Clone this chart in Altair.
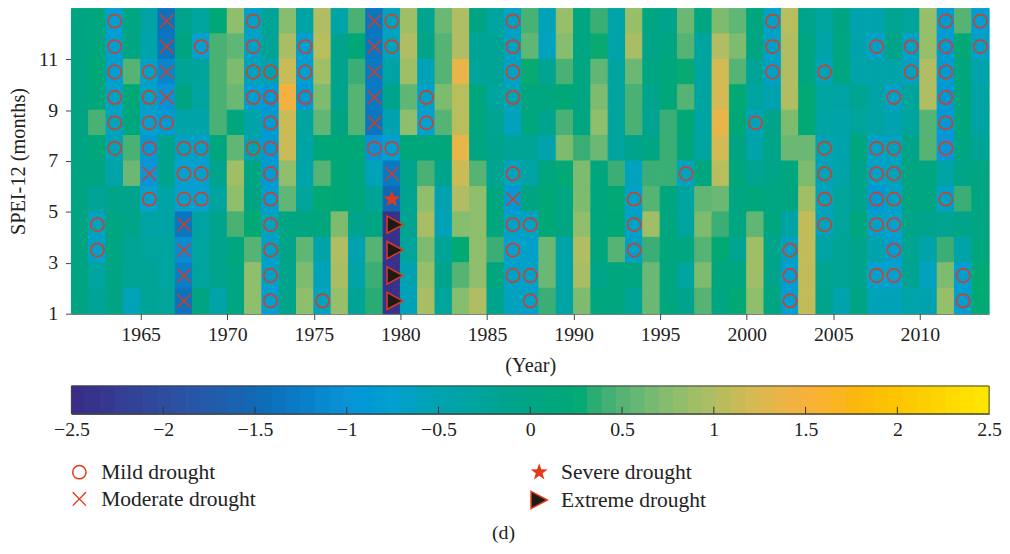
import altair as alt
import pandas as pd

FONT = "Liberation Serif"
RED = "#e0391c"

years = list(range(1961, 2014))
months_desc = [12, 11, 10, 9, 8, 7, 6, 5, 4, 3, 2, 1]

# One row per year, values for months 12 down to 1
spei_by_year = [
    [0.0, 0.0, 0.0, 0.0, 0.0, 0.0, 0.0, 0.0, 0.0, 0.0, 0.0, 0.0],
    [.1, .1, .2, .15, .45, .15, 0, -.2, -.6, -.7, -.3, -.2],
    [-.8, -.8, -.8, -.7, -.6, -.55, -.4, -.05, .05, .05, 0, 0],
    [.05, .05, .5, .2, .1, .45, .6, -.1, -.05, -.2, -.2, -.55],
    [-.35, -.4, -.7, -.7, -.75, -.95, -1.0, -.75, -.35, -.25, -.2, -.2],
    [-1.4, -1.35, -1.15, -1.05, -.85, -.1, -.1, -.35, -.35, -.3, -.3, -.25],
    [-.1, 0, -.2, 0, -.4, -.65, -.75, -.75, -1.35, -1.1, -1.25, -1.4],
    [-.3, -.75, -.25, -.3, -.4, -.7, -.75, -.75, -.35, -.3, -.3, 0],
    [.2, .45, .45, .45, .45, .1, -.1, -.3, -.1, -.1, -.1, -.4],
    [.8, .55, .7, .6, .1, .55, .9, .8, .45, .1, .05, .05],
    [-.7, -.7, -.6, -.8, -.4, -.5, .05, 0, .25, .5, .8, .8],
    [-.2, -.2, -.5, -.9, -.85, -.9, -.85, -.8, -.6, -.7, -.7, -.8],
    [.75, .95, 1.15, 1.45, 1.15, 1.15, .8, .55, .05, -.05, -.1, -.05],
    [-.35, -.8, -.8, -.9, -.3, -.35, -.4, -.25, .05, .55, .7, .8],
    [1.0, 1.05, .9, .7, .55, .15, .5, .25, .1, -.4, -.55, -.6],
    [-.4, -.1, -.1, -.1, 0, .2, .2, .2, .7, 1.0, .95, .85],
    [.45, .2, .4, .5, .5, .2, .1, .1, -.1, -.5, -.4, -.2],
    [-1.35, -1.35, -1.3, -1.3, -1.35, -1.05, -.55, -.2, .05, .5, .4, .35],
    [-.6, -.6, -.35, -.1, -.5, -.8, -1.3, -1.5, -2.4, -2.4, -2.4, -2.4],
    [.9, 1.0, .9, .55, .8, .15, -.1, -.15, -.15, -.25, -.5, -.55],
    [-.15, -.05, -.55, -.7, -.75, .15, .45, .8, .95, .7, .85, .95],
    [.6, .5, .5, .7, .5, .15, -.1, -.5, -.55, -.2, -.1, -.25],
    [1.0, 1.0, 1.35, 1.05, 1.05, 1.35, 1.15, 1.0, .75, .25, .5, .75],
    [0, -.2, -.25, .1, .1, .05, .5, .8, .8, .8, .8, 1.0],
    [-.3, -.2, -.2, -.3, -.15, -.1, -.15, .1, .1, .4, .1, -.1],
    [-.65, -.65, -.65, -.55, -.6, -.2, -.6, -.9, -.7, -.75, -.7, -.6],
    [.45, .55, .3, .1, .1, -.2, -.35, 0, -.65, -.7, -.7, -.7],
    [-.55, -.6, -.15, .1, -.1, -.45, .1, .2, .2, .6, .6, .4],
    [.85, .75, .45, .2, .45, .7, .25, .05, .05, -.4, -.4, -.35],
    [.05, .05, .05, .05, .05, .4, .7, .7, .8, 1.0, .95, .7],
    [.4, .3, .55, .7, .8, .6, .1, .1, .1, .1, -.05, .1],
    [-.4, -.4, -.3, -.3, -.3, -.3, .4, .25, .2, .5, .1, .1],
    [.85, .95, .6, .45, .45, -.1, -.6, -.7, -.7, -.7, .05, -.2],
    [.05, -.05, .05, -.1, -.15, .05, .4, .5, .9, .4, .6, .6],
    [-.1, .05, .15, .15, .4, .4, .4, .1, .1, .1, .1, .1],
    [.6, .5, .3, .5, .2, .1, -.6, -.3, -.3, .05, -.3, -.1],
    [.05, -.3, -.3, -.3, -.35, -.3, .1, .55, .7, .5, .7, .5],
    [.7, 1.0, 1.2, 1.2, 1.35, 1.2, 1.05, .6, .4, .25, .1, .05],
    [.55, .7, .5, .25, .2, 0, .1, .05, .05, -.15, .1, .25],
    [.1, .05, -.2, -.3, -.55, -.4, -.15, .15, .55, .9, .9, .8],
    [-.7, -.7, -.7, -.5, -.05, -.05, -.05, .05, .1, -.05, -.05, .05],
    [1.05, 1.0, 1.0, 1.0, .7, .6, .1, .05, -.35, -.65, -.8, -.8],
    [-.1, .05, .05, .25, .25, .6, .7, .9, 1.1, 1.1, 1.1, 1.1],
    [-.3, -.4, -.55, -.3, -.35, -.55, -.55, -.6, -.6, -.35, -.15, -.1],
    [0, .05, .05, -.35, -.4, -.45, -.4, -.25, -.25, -.2, -.2, -.45],
    [-.45, -.45, -.4, -.15, -.25, .1, -.05, -.1, .1, -.1, -.1, 0],
    [-.45, -.7, -.4, -.35, -.35, -.7, -.7, -.9, -.7, -.45, -.75, -.55],
    [-.15, -.05, -.4, -.7, -.5, -.6, -.6, -.7, -.75, -.8, -.75, -.55],
    [-.25, -.7, -.65, -.25, -.3, -.05, .05, .05, -.05, -.15, -.15, -.4],
    [.85, .85, 1.0, 1.0, .5, .5, .05, .05, -.1, -.4, -.6, -.5],
    [-.85, -.85, -.85, -.9, -.9, -1.0, -.35, -.7, -.15, .4, .7, .85],
    [.5, .25, .1, .1, .1, .05, -.05, .4, -.05, -.4, -.8, -.8],
    [-.8, -.7, -.45, -.35, -.35, -.2, .05, .05, .05, .1, .25, .25],
]

mild = {1962: [4, 3], 1963: [12, 11, 10, 9, 8, 7], 1965: [10, 9, 8, 7, 5], 1966: [8],
        1967: [7, 6, 5], 1968: [11, 7, 6, 5], 1971: [12, 11, 10, 9, 7],
        1972: [10, 9, 8, 7, 6, 5, 4, 3, 2, 1], 1974: [11, 10, 9], 1975: [1], 1978: [7],
        1979: [12, 11, 7], 1981: [9, 8], 1986: [12, 11, 10, 9, 6, 4, 3, 2], 1987: [4, 2, 1],
        1993: [5, 4, 3], 1996: [6], 2000: [8], 2001: [12, 11, 10], 2002: [3, 2, 1],
        2004: [10, 7, 6, 5, 4], 2007: [11, 7, 6, 5, 4, 2], 2008: [9, 7, 6, 5, 4, 3, 2],
        2009: [11, 10], 2011: [12, 11, 10, 9, 8, 7, 5], 2012: [2, 1], 2013: [12, 11]}
moderate = {1965: [6], 1966: [12, 11, 10, 9], 1967: [4, 3, 2, 1],
            1978: [12, 11, 10, 9, 8], 1979: [6], 1986: [5]}
severe = {1979: [5]}
extreme = {1979: [4, 3, 2, 1]}

color_domain = [-2.5, -2, -1.5, -1, -.75, -.5, -.25, 0, .3, .4, .6, .8, 1, 1.25, 1.5, 1.75, 2, 2.5]
color_range = ["#3a2a85", "#2f4d9e", "#1068b5", "#0c94d8", "#06a0cf", "#00a2b0", "#00a49a",
               "#00a483", "#09aa72", "#3bae75", "#6ab874", "#8fbe6c", "#b0bd62", "#dcb852",
               "#f9b03c", "#fbb70f", "#fdc400", "#fde800"]
bar_ticks = [-2.5, -2, -1.5, -1, -.5, 0, .5, 1, 1.5, 2, 2.5]
year_ticks = [1965, 1970, 1975, 1980, 1985, 1990, 1995, 2000, 2005, 2010]
month_ticks = list(range(1, 13))

W, H, BAR_H = 926, 308, 28
CROSS = "M-1,-1L1,1M1,-1L-1,1"
TRI = "M-0.95,-1L0.95,0L-0.95,1Z"
TRI_SHIFT = "M-0.55,-1L1.3,0L-0.55,1Z"
STAR = ("M0,-1L0.235,-0.325L0.951,-0.309L0.38,0.124L0.588,0.809L0,0.4"
        "L-0.588,0.809L-0.38,0.124L-0.951,-0.309L-0.235,-0.325Z")

cells = pd.DataFrame([
    {"year": y, "year2": y + 1, "month": m, "month2": m + 1, "spei": v}
    for y, row in zip(years, spei_by_year) for m, v in zip(months_desc, row)
])


def marks(d):
    return pd.DataFrame([{"x": y + .5, "y": m + .5} for y, ms in d.items() for m in ms])


color_scale = alt.Scale(domain=color_domain, range=color_range)
xs = alt.Scale(domain=[1961, 2014], nice=False, zero=False)
ys = alt.Scale(domain=[1, 13], nice=False, zero=False)

heat = alt.Chart(cells).mark_rect().encode(
    x=alt.X("year:Q", scale=xs, axis=alt.Axis(
        values=year_ticks, format="d", title="(Year)", grid=False, labelFlush=False,
        domainColor="#333", tickColor="#444", tickSize=6, labelPadding=5, titlePadding=11)),
    x2="year2:Q",
    y=alt.Y("month:Q", scale=ys, axis=alt.Axis(
        values=month_ticks, format="d", title="SPEI-12 (months)", grid=False, labelFlush=False,
        labelOverlap=False, domainColor="#777", tickColor="#444", tickSize=6, labelPadding=8,
        titlePadding=10)),
    y2="month2:Q",
    color=alt.Color("spei:Q", scale=color_scale, legend=None),
    stroke=alt.Stroke("spei:Q", scale=color_scale, legend=None),
)


def pts(d, **kw):
    return alt.Chart(marks(d)).mark_point(**kw).encode(
        x=alt.X("x:Q", scale=xs), y=alt.Y("y:Q", scale=ys))


mild_pts = pts(mild, shape="circle", size=180, filled=False, stroke=RED, strokeWidth=1.5, opacity=1)
mod_pts = pts(moderate, shape=CROSS, size=180, filled=False, stroke=RED, strokeWidth=1.4, opacity=1)
sev_pts = pts(severe, shape=STAR, size=324, filled=True, fill=RED, opacity=1)
ext_pts = pts(extreme, shape=TRI_SHIFT, size=300, filled=True, fill="#1c1c14", stroke=RED,
              strokeWidth=1.5, opacity=1)
main = alt.layer(heat, mild_pts, mod_pts, sev_pts, ext_pts).properties(width=W, height=H)

# colour bar
n_levels = 64
step = 5 / n_levels
bar_df = pd.DataFrame({
    "a": [-2.5 + i * step for i in range(n_levels)],
    "b": [-2.5 + (i + 1) * step for i in range(n_levels)],
    "c": [-2.5 + (i + .5) * step for i in range(n_levels)],
})
bxs = alt.Scale(domain=[-2.5, 2.5], nice=False, zero=False)
bar = alt.Chart(bar_df).mark_rect().encode(
    x=alt.X("a:Q", scale=bxs, axis=alt.Axis(
        values=bar_ticks, title=None, grid=False, ticks=False, domainColor="#222", labelFlush=False,
        labelOverlap=False, labelPadding=6,
        labelExpr="replace(toString(datum.value), '-', '\u2212')")),
    x2="b:Q",
    y=alt.value(0), y2=alt.value(BAR_H),
    color=alt.Color("c:Q", scale=color_scale, legend=None),
    stroke=alt.Stroke("c:Q", scale=color_scale, legend=None),
)
bar_rules = alt.Chart(pd.DataFrame({"v": bar_ticks[1:-1]})).mark_rule(color="#333").encode(
    x=alt.X("v:Q", scale=bxs), y=alt.value(BAR_H - 7), y2=alt.value(BAR_H))
frame = alt.Chart(pd.DataFrame({"k": [0]})).mark_rect(
    fillOpacity=0, stroke="#444", strokeWidth=1).encode(
    x=alt.value(0), x2=alt.value(W), y=alt.value(0), y2=alt.value(BAR_H))


def legend_item(label, px, py, **kw):
    df = pd.DataFrame({"label": [label]})
    p = alt.Chart(df).mark_point(opacity=1, **kw).encode(x=alt.value(px), y=alt.value(py))
    t = alt.Chart(df).mark_text(align="left", baseline="middle", font=FONT, fontSize=21.7,
                                color="#222").encode(
        x=alt.value(px + 22), y=alt.value(py), text="label:N")
    return [p, t]


leg = (
    legend_item("Mild drought", 8, 87, shape="circle", size=180, filled=False, stroke=RED, strokeWidth=1.5)
    + legend_item("Moderate drought", 8, 114, shape=CROSS, size=180, filled=False, stroke=RED, strokeWidth=1.4)
    + legend_item("Severe drought", 472, 87, shape=STAR, size=324, filled=True, fill=RED)
    + legend_item("Extreme drought", 472, 115, shape=TRI, size=300, filled=True, fill="#1c1c14", stroke=RED, strokeWidth=1.5)
)
caption = alt.Chart(pd.DataFrame({"t": ["(d)"]})).mark_text(
    font=FONT, fontSize=20, color="#222", baseline="middle").encode(
    x=alt.value(436), y=alt.value(148), text="t:N")

bottom = alt.layer(bar, bar_rules, frame, *leg, caption).properties(width=W, height=BAR_H)

chart = alt.vconcat(main, bottom, spacing=9).properties(
    padding={"left": 0, "right": 0, "top": -3, "bottom": -2}
).resolve_scale(color="independent", stroke="independent", x="independent", y="independent").configure_view(
    stroke=None
).configure_axis(
    labelFont=FONT, titleFont=FONT, labelFontSize=20, titleFontSize=20.5,
    labelColor="#222", titleColor="#222", titleFontWeight="normal"
)
chart.save("out.html", embed_options={"renderer": "svg", "actions": False})
